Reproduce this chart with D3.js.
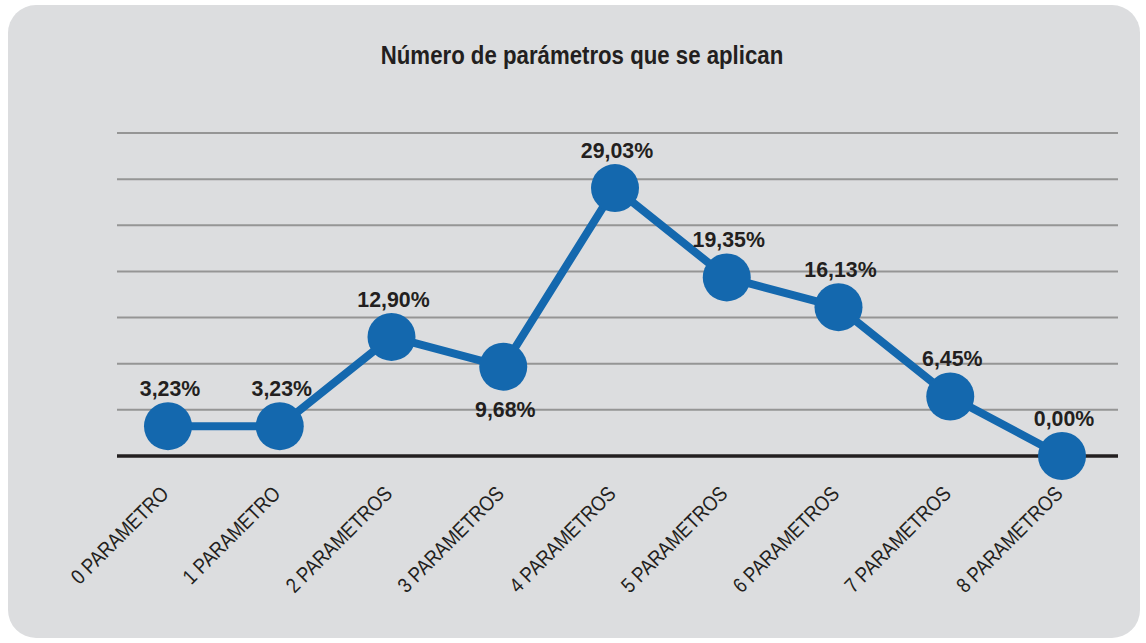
<!DOCTYPE html>
<html>
<head>
<meta charset="utf-8">
<script src="https://cdn.jsdelivr.net/npm/d3@7"></script>
<style>
  body { margin: 0; background: #ffffff; }
  svg { display: block; }
</style>
</head>
<body>
<svg id="chart"></svg>
<script>
// data
const categories = ["0 PARAMETRO", "1 PARAMETRO", "2 PARAMETROS", "3 PARAMETROS", "4 PARAMETROS",
                    "5 PARAMETROS", "6 PARAMETROS", "7 PARAMETROS", "8 PARAMETROS"];
const values = [3.23, 3.23, 12.90, 9.68, 29.03, 19.35, 16.13, 6.45, 0.00];
const labelBelow = [false, false, false, true, false, false, false, false, false];
const yTicks = [0, 5, 10, 15, 20, 25, 30, 35];
const title = "Número de parámetros que se aplican";

const W = 1146, H = 643;
// no condensed Helvetica here, so squeeze Liberation Sans horizontally
const font = "'Liberation Sans', Arial, sans-serif";
const blue = "#1468ae";
const ink = "#231f20";

const svg = d3.select("#chart").attr("width", W).attr("height", H);

// panel
svg.append("rect")
  .attr("x", 8).attr("y", 5)
  .attr("width", 1132).attr("height", 633)
  .attr("rx", 28).attr("ry", 28)
  .attr("fill", "#dcdddf");

svg.append("text")
  .attr("transform", "translate(582,64) scale(0.855,1)")
  .attr("text-anchor", "middle")
  .attr("font-family", font)
  .attr("font-weight", "bold")
  .attr("font-size", "26px")
  .attr("fill", ink)
  .text(title);

const left = 117, right = 1118;
const x = d3.scalePoint().domain(categories).range([168, 1062]);
const y = d3.scaleLinear().domain([0, 35]).range([456, 133]);

// gridlines
svg.append("g")
  .selectAll("line")
  .data(yTicks.filter(d => d > 0))
  .enter()
  .append("line")
    .attr("x1", left).attr("x2", right)
    .attr("y1", d => y(d)).attr("y2", d => y(d))
    .attr("stroke", "#959595")
    .attr("stroke-width", 2);

// baseline / x axis
svg.append("line")
  .attr("x1", left).attr("x2", right)
  .attr("y1", y(0)).attr("y2", y(0))
  .attr("stroke", ink)
  .attr("stroke-width", 3.5);

// category labels, rotated
svg.append("g")
  .selectAll("text")
  .data(categories)
  .enter()
  .append("text")
    .attr("transform", d => "translate(" + (x(d) + 2) + ",495) rotate(-45) scale(0.86,1)")
    .attr("text-anchor", "end")
    .attr("font-family", font)
    .attr("font-size", "21px")
    .attr("fill", ink)
    .text(d => d);

const pts = categories.map((c, i) => [c, values[i], labelBelow[i]]);

svg.append("path")
  .datum(pts)
  .attr("fill", "none")
  .attr("stroke", blue)
  .attr("stroke-width", 8)
  .attr("stroke-linejoin", "round")
  .attr("d", d3.line().x(d => x(d[0])).y(d => y(d[1])));

svg.append("g")
  .selectAll("circle")
  .data(pts)
  .enter()
  .append("circle")
    .attr("cx", d => x(d[0]))
    .attr("cy", d => y(d[1]))
    .attr("r", 24)
    .attr("fill", blue);

svg.append("g")
  .selectAll("text")
  .data(pts)
  .enter()
  .append("text")
    .attr("transform", d => "translate(" + (x(d[0]) + 2) + "," +
        (d[2] ? y(d[1]) + 50 : y(d[1]) - 30) + ") scale(0.97,1)")
    .attr("text-anchor", "middle")
    .attr("font-family", font)
    .attr("font-weight", "bold")
    .attr("font-size", "22px")
    .attr("fill", ink)
    .text(d => d[1].toFixed(2).replace(".", ",") + "%");
</script>
</body>
</html>
